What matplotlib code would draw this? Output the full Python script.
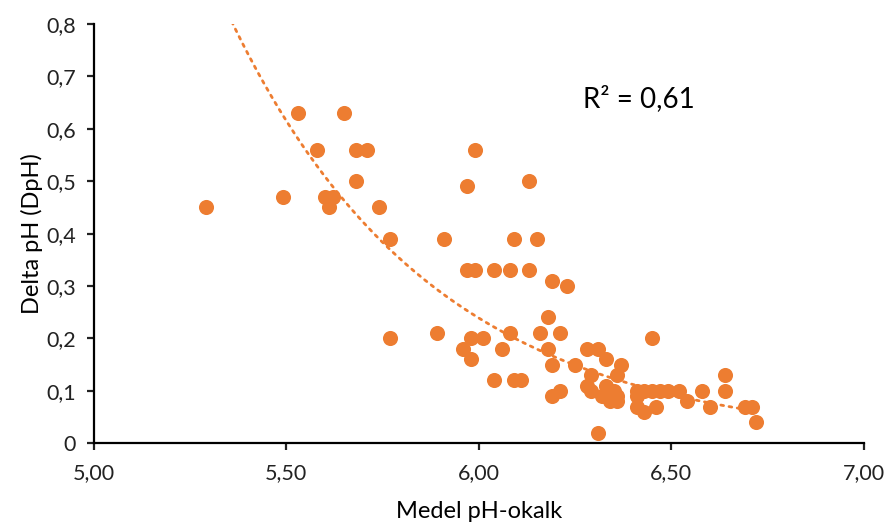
import numpy as np
import matplotlib
matplotlib.use("Agg")
import matplotlib.pyplot as plt
from matplotlib.ticker import FixedLocator, FuncFormatter

# Medel pH-okalk vs Delta pH per sample
ph_mean = [
    5.29, 5.49, 5.53, 5.58, 5.60, 5.61, 5.62, 5.65, 5.68, 5.71,
    5.68, 5.74, 5.77, 5.77, 5.89, 5.91, 5.96, 5.97, 5.97, 5.98,
    5.98, 5.99, 5.99, 6.01, 6.04, 6.04, 6.06, 6.08, 6.08, 6.09,
    6.09, 6.11, 6.13, 6.13, 6.15, 6.16, 6.18, 6.18, 6.19, 6.19,
    6.19, 6.21, 6.21, 6.23, 6.25, 6.28, 6.28, 6.29, 6.29, 6.31,
    6.31, 6.32, 6.33, 6.33, 6.34, 6.35, 6.36, 6.36, 6.36, 6.37,
    6.41, 6.41, 6.41, 6.43, 6.43, 6.45, 6.45, 6.46, 6.47, 6.49,
    6.52, 6.54, 6.58, 6.60, 6.64, 6.64, 6.69, 6.71, 6.72,
]
delta_ph = [
    0.45, 0.47, 0.63, 0.56, 0.47, 0.45, 0.47, 0.63, 0.56, 0.56,
    0.50, 0.45, 0.39, 0.20, 0.21, 0.39, 0.18, 0.49, 0.33, 0.20,
    0.16, 0.56, 0.33, 0.20, 0.33, 0.12, 0.18, 0.33, 0.21, 0.39,
    0.12, 0.12, 0.50, 0.33, 0.39, 0.21, 0.24, 0.18, 0.31, 0.15,
    0.09, 0.21, 0.10, 0.30, 0.15, 0.18, 0.11, 0.13, 0.10, 0.18,
    0.02, 0.09, 0.16, 0.11, 0.08, 0.10, 0.13, 0.09, 0.08, 0.15,
    0.10, 0.09, 0.07, 0.10, 0.06, 0.10, 0.20, 0.07, 0.10, 0.10,
    0.10, 0.08, 0.10, 0.07, 0.13, 0.10, 0.07, 0.07, 0.04,
]
r2_label = "R² = 0,61"

x_ticks = [5.0, 5.5, 6.0, 6.5, 7.0]
y_ticks = [0, 0.1, 0.2, 0.3, 0.4, 0.5, 0.6, 0.7, 0.8]

ORANGE = "#ED7D31"
plt.rcParams["font.family"] = ["Lato", "DejaVu Sans"]

x = np.array(ph_mean)
y = np.array(delta_ph)

# exponential trendline, y = a * exp(b x), fitted on log(y)
b, ln_a = np.polyfit(x, np.log(y), 1)
xs = np.linspace(x.min(), x.max(), 300)
ys = np.exp(ln_a) * np.exp(b * xs)

fig = plt.figure(figsize=(8.86, 5.22), dpi=100)
ax = fig.add_axes([0.106, 0.151, 0.869, 0.803])

ax.plot(xs, ys, color=ORANGE, lw=2.0, linestyle=(0, (1, 2.0)),
        dash_capstyle="round", zorder=2)
ax.scatter(x, y, s=118, color=ORANGE, linewidths=0, zorder=3)

ax.set_xlim(5.0, 7.0)
ax.set_ylim(0, 0.8)
ax.xaxis.set_major_locator(FixedLocator(x_ticks))
ax.yaxis.set_major_locator(FixedLocator(y_ticks))
ax.xaxis.set_major_formatter(FuncFormatter(lambda v, p: f"{v:.2f}".replace(".", ",")))
ax.yaxis.set_major_formatter(
    FuncFormatter(lambda v, p: "0" if v == 0 else f"{v:.1f}".replace(".", ",")))

for side in ("top", "right"):
    ax.spines[side].set_visible(False)
for side in ("left", "bottom"):
    ax.spines[side].set_linewidth(1.6)
    ax.spines[side].set_color("black")
ax.tick_params(axis="both", direction="out", length=5, width=1.6,
               labelsize=15.5, colors="#222222")
ax.tick_params(axis="x", pad=9)
ax.tick_params(axis="y", pad=8)

ax.set_xlabel("Medel pH-okalk", fontsize=17, labelpad=13)
ax.set_ylabel("Delta pH (DpH)", fontsize=17, labelpad=2)

ax.text(6.27, 0.658, r2_label, fontsize=20, va="center", ha="left")

fig.savefig("out.png", dpi=100, facecolor="white")
